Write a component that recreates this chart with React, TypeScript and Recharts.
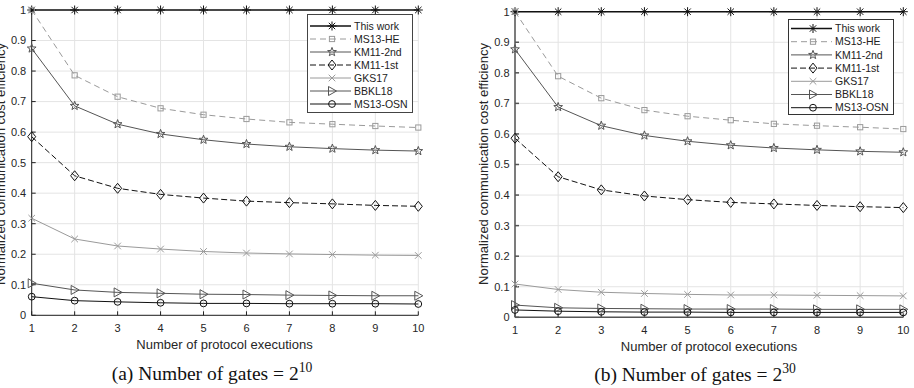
import React from "react";
import { LineChart, Line, XAxis, YAxis, CartesianGrid, Legend } from "recharts";

const executions = [1, 2, 3, 4, 5, 6, 7, 8, 9, 10];
const yTicks = [0, 0.1, 0.2, 0.3, 0.4, 0.5, 0.6, 0.7, 0.8, 0.9, 1];

// (a) number of gates = 2^10
const thisWorkA = [1, 1, 1, 1, 1, 1, 1, 1, 1, 1];
const ms13HeA = [1.0, 0.786, 0.716, 0.678, 0.657, 0.643, 0.632, 0.626, 0.62, 0.615];
const km11SecondA = [0.874, 0.686, 0.626, 0.594, 0.575, 0.561, 0.552, 0.546, 0.541, 0.538];
const km11FirstA = [0.585, 0.457, 0.416, 0.396, 0.384, 0.374, 0.369, 0.365, 0.36, 0.357];
const gks17A = [0.318, 0.25, 0.227, 0.217, 0.209, 0.204, 0.201, 0.199, 0.197, 0.196];
const bbkl18A = [0.105, 0.083, 0.075, 0.072, 0.069, 0.068, 0.066, 0.065, 0.064, 0.064];
const ms13OsnA = [0.061, 0.048, 0.044, 0.041, 0.039, 0.039, 0.038, 0.038, 0.038, 0.037];

// (b) number of gates = 2^30
const thisWorkB = [1, 1, 1, 1, 1, 1, 1, 1, 1, 1];
const ms13HeB = [1.0, 0.789, 0.717, 0.678, 0.658, 0.645, 0.633, 0.627, 0.622, 0.616];
const km11SecondB = [0.877, 0.688, 0.627, 0.595, 0.576, 0.563, 0.554, 0.548, 0.543, 0.54];
const km11FirstB = [0.586, 0.46, 0.417, 0.397, 0.385, 0.376, 0.371, 0.366, 0.362, 0.359];
const gks17B = [0.109, 0.091, 0.082, 0.078, 0.075, 0.073, 0.073, 0.072, 0.071, 0.07];
const bbkl18B = [0.04, 0.031, 0.029, 0.028, 0.027, 0.027, 0.027, 0.026, 0.026, 0.026];
const ms13OsnB = [0.024, 0.02, 0.018, 0.017, 0.017, 0.016, 0.016, 0.016, 0.016, 0.016];

const series = [
  { key: "thisWork", name: "This work", color: "#111", dash: undefined, width: 1.4, shape: "asterisk" },
  { key: "ms13He", name: "MS13-HE", color: "#9a9a9a", dash: "6 4", width: 1, shape: "square" },
  { key: "km11Second", name: "KM11-2nd", color: "#555", dash: undefined, width: 1, shape: "star" },
  { key: "km11First", name: "KM11-1st", color: "#111", dash: "6 3", width: 1, shape: "diamond" },
  { key: "gks17", name: "GKS17", color: "#9a9a9a", dash: undefined, width: 1, shape: "x" },
  { key: "bbkl18", name: "BBKL18", color: "#555", dash: undefined, width: 1, shape: "triangle" },
  { key: "ms13Osn", name: "MS13-OSN", color: "#111", dash: undefined, width: 1, shape: "circle" },
];

function buildData(cols: Record<string, number[]>) {
  return executions.map((n, i) => {
    const row: Record<string, number> = { n };
    Object.keys(cols).forEach((k) => (row[k] = cols[k][i]));
    return row;
  });
}

const dataA = buildData({
  thisWork: thisWorkA, ms13He: ms13HeA, km11Second: km11SecondA, km11First: km11FirstA,
  gks17: gks17A, bbkl18: bbkl18A, ms13Osn: ms13OsnA,
});
const dataB = buildData({
  thisWork: thisWorkB, ms13He: ms13HeB, km11Second: km11SecondB, km11First: km11FirstB,
  gks17: gks17B, bbkl18: bbkl18B, ms13Osn: ms13OsnB,
});

function Marker({ shape, cx, cy, color }: { shape: string; cx: number; cy: number; color: string }) {
  const p = { stroke: color, strokeWidth: 1, fill: "none" };
  switch (shape) {
    case "asterisk": {
      const r = 4.5, d = 3.2;
      return (
        <g {...p}>
          <line x1={cx - r} y1={cy} x2={cx + r} y2={cy} />
          <line x1={cx} y1={cy - r} x2={cx} y2={cy + r} />
          <line x1={cx - d} y1={cy - d} x2={cx + d} y2={cy + d} />
          <line x1={cx - d} y1={cy + d} x2={cx + d} y2={cy - d} />
        </g>
      );
    }
    case "square":
      return <rect x={cx - 2.6} y={cy - 2.6} width={5.2} height={5.2} {...p} />;
    case "star": {
      const pts: string[] = [];
      for (let i = 0; i < 10; i++) {
        const r = i % 2 === 0 ? 4.6 : 1.9;
        const a = -Math.PI / 2 + (i * Math.PI) / 5;
        pts.push(`${cx + r * Math.cos(a)},${cy + r * Math.sin(a)}`);
      }
      return <polygon points={pts.join(" ")} {...p} />;
    }
    case "diamond":
      return <polygon points={`${cx},${cy - 5} ${cx + 4},${cy} ${cx},${cy + 5} ${cx - 4},${cy}`} {...p} />;
    case "x": {
      const r = 3.3;
      return (
        <g {...p}>
          <line x1={cx - r} y1={cy - r} x2={cx + r} y2={cy + r} />
          <line x1={cx - r} y1={cy + r} x2={cx + r} y2={cy - r} />
        </g>
      );
    }
    case "triangle":
      return <polygon points={`${cx - 3.5},${cy - 4.5} ${cx + 4.5},${cy} ${cx - 3.5},${cy + 4.5}`} {...p} />;
    default:
      return <circle cx={cx} cy={cy} r={3.4} {...p} />;
  }
}

function LegendBox({ box }: { box: { w: number; h: number; first: number; gap: number; border: string } }) {
  return (
    <div style={{ width: box.w, height: box.h, background: "#fff", border: `1px solid ${box.border}`, boxSizing: "border-box" }}>
      <svg width={box.w - 2} height={box.h - 2} style={{ display: "block" }}>
        {series.map((s, i) => {
          const y = box.first + i * box.gap;
          return (
            <g key={s.key}>
              <line x1={2} x2={43} y1={y} y2={y} stroke={s.color} strokeWidth={s.width} strokeDasharray={s.dash} />
              <Marker shape={s.shape} cx={24} cy={y} color={s.color} />
              <text x={46} y={y} dy="0.36em" fontSize={10.5} fill="#222" fontFamily="Liberation Sans, Arial, sans-serif">
                {s.name}
              </text>
            </g>
          );
        })}
      </svg>
    </div>
  );
}

const tickStyle = { fontSize: 11, fill: "#262626", fontFamily: "Liberation Sans, Arial, sans-serif" };

function Panel({ data, left, margin, yWidth, axisColor, axisWidth, legendPos, legendBox }: any) {
  return (
    <div style={{ position: "absolute", left, top: 0 }}>
      <LineChart width={457} height={360} data={data} margin={margin}>
        <CartesianGrid stroke="#e4e4e4" />
        <XAxis
          dataKey="n"
          type="number"
          domain={[1, 10]}
          ticks={executions}
          height={30}
          tick={tickStyle}
          tickSize={-4}
          tickMargin={13}
          stroke={axisColor}
          strokeWidth={axisWidth}
        />
        <YAxis
          type="number"
          domain={[0, 1]}
          ticks={yTicks}
          width={yWidth}
          tick={tickStyle}
          tickSize={-4}
          tickMargin={9.5}
          tickFormatter={(v: number) => String(v)}
          stroke={axisColor}
          strokeWidth={axisWidth}
        />
        <Legend
          layout="vertical"
          align="center"
          verticalAlign="middle"
          wrapperStyle={{ left: legendPos.x, top: legendPos.y, width: "auto", height: "auto" }}
          content={() => <LegendBox box={legendBox} />}
        />
        {series.map((s) => (
          <Line
            key={s.key}
            type="linear"
            dataKey={s.key}
            name={s.name}
            stroke={s.color}
            strokeWidth={s.width}
            strokeDasharray={s.dash}
            dot={(p: any) => <Marker key={`${s.key}-${p.index}`} shape={s.shape} cx={p.cx} cy={p.cy} color={s.color} />}
            activeDot={false}
            isAnimationActive={false}
          />
        ))}
      </LineChart>
    </div>
  );
}

const sans = "Liberation Sans, Arial, sans-serif";
const serif = "Liberation Serif, Times New Roman, serif";

function Centered({ x, y, rotate, style, children }: any) {
  return (
    <div
      style={{
        position: "absolute",
        left: x,
        top: y,
        transform: `translate(-50%, -50%)${rotate ? " rotate(-90deg)" : ""}`,
        whiteSpace: "nowrap",
        lineHeight: 1,
        color: "#262626",
        ...style,
      }}
    >
      {children}
    </div>
  );
}

export default function App() {
  return (
    <div style={{ position: "absolute", left: 0, top: 0, width: 914, height: 388, background: "#fff", overflow: "hidden" }}>
      <Panel
        data={dataA}
        left={0}
        margin={{ top: 10, right: 38.7, bottom: 14.7, left: 0 }}
        yWidth={31.7}
        axisColor="#222"
        axisWidth={1}
        legendPos={{ x: 307, y: 14 }}
        legendBox={{ w: 106, h: 99, first: 11, gap: 13, border: "#444" }}
      />
      <Panel
        data={dataB}
        left={457}
        margin={{ top: 11.7, right: 10.7, bottom: 12.7, left: 0 }}
        yWidth={58}
        axisColor="#555"
        axisWidth={1.5}
        legendPos={{ x: 331, y: 19 }}
        legendBox={{ w: 106, h: 96, first: 8.5, gap: 13.2, border: "#333" }}
      />
      <Centered x={-0.5} y={163.5} rotate style={{ fontFamily: sans, fontSize: 13 }}>
        Normalized communication cost efficiency
      </Centered>
      <Centered x={482.5} y={164} rotate style={{ fontFamily: sans, fontSize: 13 }}>
        Normalized communication cost efficiency
      </Centered>
      <Centered x={224.5} y={344.3} style={{ fontFamily: sans, fontSize: 13 }}>
        Number of protocol executions
      </Centered>
      <Centered x={709} y={346} style={{ fontFamily: sans, fontSize: 13 }}>
        Number of protocol executions
      </Centered>
      <Centered x={212} y={372} style={{ fontFamily: serif, fontSize: 19.5, color: "#111" }}>
        (a) Number of gates = 2<sup style={{ fontSize: "0.7em", verticalAlign: "0.55em" }}>10</sup>
      </Centered>
      <Centered x={695} y={373} style={{ fontFamily: serif, fontSize: 19.5, color: "#111" }}>
        (b) Number of gates = 2<sup style={{ fontSize: "0.7em", verticalAlign: "0.55em" }}>30</sup>
      </Centered>
    </div>
  );
}
